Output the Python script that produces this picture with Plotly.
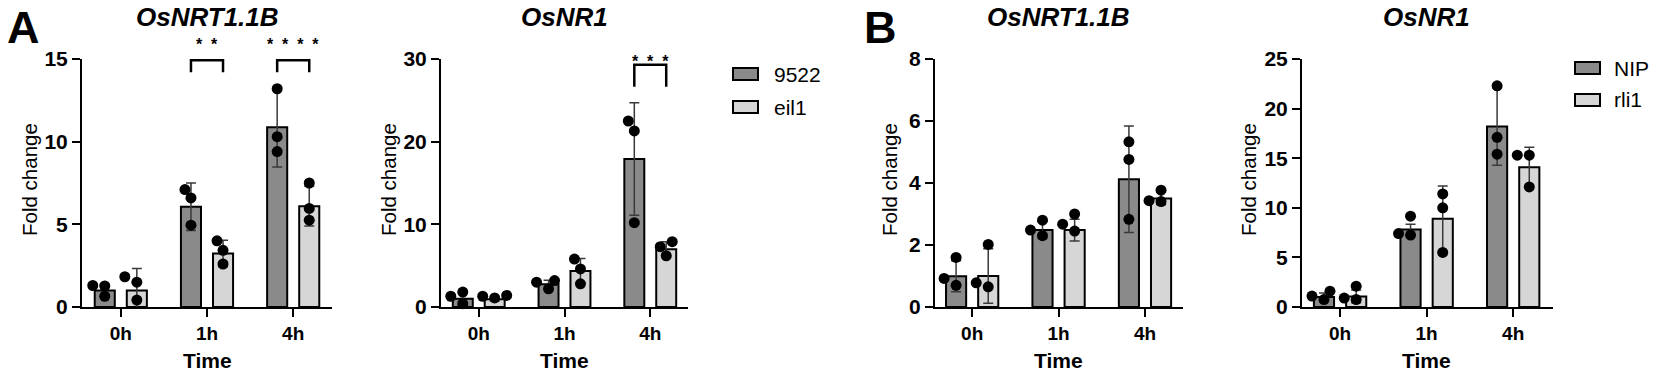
import plotly.graph_objects as go
import numpy as np

W, H = 1654, 375
FONT = "Liberation Sans, Arial, sans-serif"

# ---------------- data ----------------
categories = ["0h", "1h", "4h"]

# Panel A (9522 vs eil1)
a_nrt_9522_mean = [1.0, 6.06, 10.87]
a_nrt_9522_sd = [0.37, 1.44, 2.4]
a_nrt_9522_pts = [[1.3, 1.27, 0.65], [7.1, 6.6, 4.95], [13.2, 10.3, 9.4]]
a_nrt_eil1_mean = [1.0, 3.23, 6.1]
a_nrt_eil1_sd = [1.33, 0.8, 1.2]
a_nrt_eil1_pts = [[1.83, 1.5, 0.42], [4.0, 3.43, 2.6], [7.5, 5.96, 5.25]]

a_nr_9522_mean = [1.0, 2.75, 17.9]
a_nr_9522_sd = [0.7, 0.5, 6.8]
a_nr_9522_pts = [[1.8, 1.3, 0.4], [3.2, 3.0, 2.2], [22.5, 21.3, 10.2]]
a_nr_eil1_mean = [0.93, 4.36, 7.0]
a_nr_eil1_sd = [0.2, 1.5, 0.9]
a_nr_eil1_pts = [[1.4, 1.3, 1.1], [5.8, 4.6, 2.8], [7.9, 7.3, 6.2]]

# Panel B (NIP vs rli1)
b_nrt_nip_mean = [0.99, 2.48, 4.12]
b_nrt_nip_sd = [0.5, 0.27, 1.72]
b_nrt_nip_pts = [[1.6, 0.92, 0.7], [2.8, 2.48, 2.3], [5.33, 4.76, 2.83]]
b_nrt_rli1_mean = [1.0, 2.48, 3.5]
b_nrt_rli1_sd = [0.88, 0.35, 0.2]
b_nrt_rli1_pts = [[2.02, 0.78, 0.65], [3.0, 2.67, 2.45], [3.77, 3.43, 3.4]]

b_nr_nip_mean = [1.0, 7.8, 18.2]
b_nr_nip_sd = [0.4, 0.55, 3.9]
b_nr_nip_pts = [[1.6, 1.1, 0.75], [9.15, 7.4, 7.25], [22.3, 17.1, 15.4]]
b_nr_rli1_mean = [1.07, 8.9, 14.1]
b_nr_rli1_sd = [0.65, 3.3, 2.0]
b_nr_rli1_pts = [[2.1, 0.9, 0.75], [11.4, 10.0, 5.5], [15.3, 15.3, 12.1]]

y_ticks_a_nrt = [0, 5, 10, 15]
y_ticks_a_nr = [0, 10, 20, 30]
y_ticks_b_nrt = [0, 2, 4, 6, 8]
y_ticks_b_nr = [0, 5, 10, 15, 20, 25]

# significance: (category index, label)
sig_a_nrt = [(1, "*  *"), (2, "*  *  *  *")]
sig_a_nr = [(2, "*  *  *")]
sig_b_nrt = []
sig_b_nr = []

# ---------------- layout config ----------------
DARK = "#8a8a8a"
LIGHT = "#d6d6d6"
PLOT_TOP, PLOT_BOT = 59, 307
panels = [
    dict(title="OsNRT1.1B", l=82, r=332, xr=[-0.45, 2.45], ticks=y_ticks_a_nrt,
         s1=("9522", a_nrt_9522_mean, a_nrt_9522_sd, a_nrt_9522_pts),
         s2=("eil1", a_nrt_eil1_mean, a_nrt_eil1_sd, a_nrt_eil1_pts),
         sig=sig_a_nrt, br=(14.2, 14.92), star=16.0, ytitle_x=29, legend=None),
    dict(title="OsNR1", l=441, r=688, xr=[-0.44, 2.44], ticks=y_ticks_a_nr,
         s1=("9522", a_nr_9522_mean, a_nr_9522_sd, a_nr_9522_pts),
         s2=("eil1", a_nr_eil1_mean, a_nr_eil1_sd, a_nr_eil1_pts),
         sig=sig_a_nr, br=(26.65, 29.3), star=30.0, ytitle_x=388,
         legend=dict(box_l=733, text_l=772, rows=(74, 107))),
    dict(title="OsNRT1.1B", l=935, r=1183, xr=[-0.43, 2.44], ticks=y_ticks_b_nrt,
         s1=("NIP", b_nrt_nip_mean, b_nrt_nip_sd, b_nrt_nip_pts),
         s2=("rli1", b_nrt_rli1_mean, b_nrt_rli1_sd, b_nrt_rli1_pts),
         sig=sig_b_nrt, br=None, star=None, ytitle_x=889, legend=None),
    dict(title="OsNR1", l=1302, r=1553, xr=[-0.44, 2.46], ticks=y_ticks_b_nr,
         s1=("NIP", b_nr_nip_mean, b_nr_nip_sd, b_nr_nip_pts),
         s2=("rli1", b_nr_rli1_mean, b_nr_rli1_sd, b_nr_rli1_pts),
         sig=sig_b_nr, br=None, star=None, ytitle_x=1248,
         legend=dict(box_l=1575, text_l=1612, rows=(68, 100))),
]

BAR_OFF = 0.186


def swarm(vals, ppu_y, diam=10.0, step=6.0):
    order = np.argsort(vals)
    placed, offs = [], [0.0] * len(vals)
    for idx in order:
        yv = vals[idx] * ppu_y
        for c in [0.0, -step, step, -2 * step, 2 * step]:
            if all((c - px) ** 2 + (yv - py) ** 2 >= diam ** 2 for px, py in placed):
                break
        placed.append((c, yv))
        offs[idx] = c
    return offs


fig = go.Figure()
layout = dict(
    width=W, height=H, margin=dict(l=0, r=0, t=0, b=0, autoexpand=False),
    paper_bgcolor="white", plot_bgcolor="white",
    barmode="group", bargap=0.256, bargroupgap=0.374,
    font=dict(family=FONT, color="black"),
    showlegend=False,
    annotations=[], shapes=[],
)

for i, p in enumerate(panels, start=1):
    xa = f"x{i}" if i > 1 else "x"
    ya = f"y{i}" if i > 1 else "y"
    xk = f"xaxis{i}" if i > 1 else "xaxis"
    yk = f"yaxis{i}" if i > 1 else "yaxis"
    ymax = p["ticks"][-1]
    ppu_y = (PLOT_BOT - PLOT_TOP) / ymax
    ppu_x = (p["r"] - p["l"]) / (p["xr"][1] - p["xr"][0])
    layout[xk] = dict(
        domain=[p["l"] / W, p["r"] / W], anchor=ya, range=p["xr"],
        tickmode="array", tickvals=[0, 1, 2], ticktext=categories,
        showline=True, linecolor="black", linewidth=2, ticks="outside",
        ticklen=8, tickwidth=2, tickcolor="black", showgrid=False, zeroline=False,
        tickfont=dict(size=19, family=FONT, color="black", weight="bold"),
        fixedrange=True, automargin=False,
    )
    layout[yk] = dict(
        domain=[1 - PLOT_BOT / H, 1 - PLOT_TOP / H], anchor=xa, range=[0, ymax],
        tickmode="array", tickvals=p["ticks"],
        showline=True, linecolor="black", linewidth=2, ticks="outside",
        ticklen=8, tickwidth=2, tickcolor="black", showgrid=False, zeroline=False,
        tickfont=dict(size=21, family=FONT, color="black", weight="bold"),
        fixedrange=True, automargin=False,
    )
    for side, key, color in [(-1, "s1", DARK), (1, "s2", LIGHT)]:
        name, mean, sd, pts = p[key]
        fig.add_trace(go.Bar(
            x=[0, 1, 2], y=mean, name=name, xaxis=xa, yaxis=ya,
            marker=dict(color=color, line=dict(color="black", width=2)),
            error_y=dict(type="data", array=sd, visible=True, color="#3a3a3a",
                         thickness=1.5, width=5),
        ))
    for side, key in [(-1, "s1"), (1, "s2")]:
        name, mean, sd, pts = p[key]
        xs, ys = [], []
        for ci, vals in enumerate(pts):
            offs = swarm(vals, ppu_y)
            for v, o in zip(vals, offs):
                xs.append(ci + side * BAR_OFF + o / ppu_x)
                ys.append(v)
        fig.add_trace(go.Scatter(
            x=xs, y=ys, mode="markers", xaxis=xa, yaxis=ya, name=name,
            marker=dict(color="black", size=11), hoverinfo="skip", cliponaxis=False,
        ))
    # significance brackets
    for ci, lab in p["sig"]:
        y0, y1 = p["br"]
        fig.add_trace(go.Scatter(
            x=[ci - BAR_OFF, ci - BAR_OFF, ci + BAR_OFF, ci + BAR_OFF],
            y=[y0, y1, y1, y0], mode="lines", xaxis=xa, yaxis=ya,
            line=dict(color="black", width=2.5), hoverinfo="skip",
        ))
        layout["annotations"].append(dict(
            x=ci, y=p["star"] / ymax, xref=xa, yref=f"{ya} domain", text=lab,
            showarrow=False,
            font=dict(size=16, family=FONT, color="black", weight="bold"),
            xanchor="center", yanchor="middle", yshift=-2,
        ))
    # panel title
    layout["annotations"].append(dict(
        x=1, xref=xa, y=1 - 17 / H, yref="paper", text=f"<b><i>{p['title']}</i></b>",
        showarrow=False, font=dict(size=26, family=FONT, color="black"),
        xanchor="center", yanchor="middle",
    ))
    # axis titles
    layout["annotations"].append(dict(
        x=1, xref=xa, y=1 - 360 / H, yref="paper", text="<b>Time</b>",
        showarrow=False, font=dict(size=21, family=FONT, color="black"),
        xanchor="center", yanchor="middle",
    ))
    layout["annotations"].append(dict(
        x=p["ytitle_x"] / W, xref="paper", y=1 - 180 / H, yref="paper",
        text="Fold change", textangle=-90, showarrow=False,
        font=dict(size=20.5, family=FONT, color="black"),
        xanchor="center", yanchor="middle",
    ))
    # legend (drawn as key boxes + labels)
    lg = p["legend"]
    if lg:
        for (name, *_), color, yc in [(p["s1"], DARK, lg["rows"][0]),
                                       (p["s2"], LIGHT, lg["rows"][1])]:
            layout["shapes"].append(dict(
                type="rect", xref="paper", yref="paper",
                x0=lg["box_l"] / W, x1=(lg["box_l"] + 25) / W,
                y0=1 - (yc + 6) / H, y1=1 - (yc - 6) / H,
                fillcolor=color, line=dict(color="black", width=2),
            ))
            layout["annotations"].append(dict(
                x=lg["text_l"] / W, y=1 - yc / H, xref="paper", yref="paper",
                text=name, showarrow=False, xanchor="left", yanchor="middle",
                font=dict(size=21, family=FONT, color="black"),
            ))

# panel letters
for letter, cx in [("A", 23), ("B", 880)]:
    layout["annotations"].append(dict(
        x=cx / W, y=1, xref="paper", yref="paper", text=f"<b>{letter}</b>",
        showarrow=False, font=dict(size=45, family=FONT, color="black"),
        xanchor="center", yanchor="top",
    ))

fig.update_layout(**layout)
fig.write_html(
    "out.html",
    config={"displayModeBar": False, "staticPlot": True},
    post_script="document.body.style.margin='0';document.body.style.overflow='hidden';",
)
